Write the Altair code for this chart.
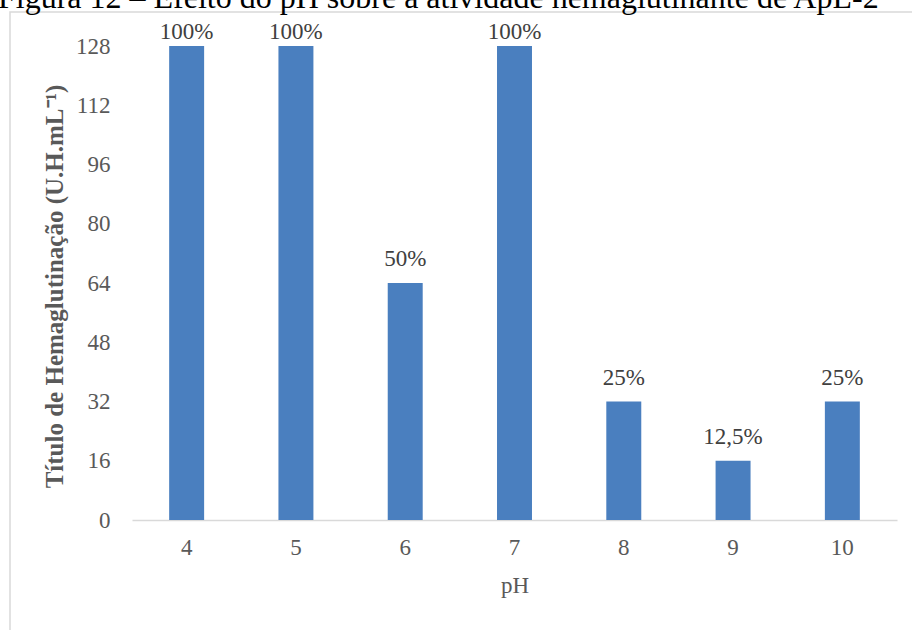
import altair as alt
import pandas as pd

# pH values and hemagglutination titre (U.H.mL^-1) with relative activity labels
ph_values = ["4", "5", "6", "7", "8", "9", "10"]
titre = [128, 128, 64, 128, 32, 16, 32]
activity = ["100%", "100%", "50%", "100%", "25%", "12,5%", "25%"]

heading = "Figura 12 – Efeito do pH sobre a atividade hemaglutinante de ApL-2"
y_ticks = [0, 16, 32, 48, 64, 80, 96, 112, 128]

df = pd.DataFrame({"pH": ph_values, "titulo": titre, "rotulo": activity})

SERIF = "Liberation Serif"
GREY = "#595959"
BLUE = "#4a7fbf"

x_enc = alt.X(
    "pH:N",
    sort=ph_values,
    scale=alt.Scale(paddingInner=0.68, paddingOuter=0.34),
    axis=alt.Axis(
        title="pH",
        labelAngle=0,
        labelFont=SERIF,
        labelFontSize=23,
        labelColor=GREY,
        labelPadding=16,
        ticks=False,
        tickSize=0,
        domainColor="#d9d9d9",
        domainWidth=1.5,
        titleFont=SERIF,
        titleFontSize=23,
        titleFontWeight="normal",
        titleColor=GREY,
        titleY=65,
        titleBaseline="middle",
    ),
)

y_enc = alt.Y(
    "titulo:Q",
    scale=alt.Scale(domain=[0, 128], nice=False),
    axis=alt.Axis(
        title="Título de Hemaglutinação (U.H.mL⁻¹)",
        values=y_ticks,
        grid=False,
        domain=False,
        ticks=False,
        tickSize=0,
        labelFont=SERIF,
        labelFontSize=23,
        labelColor=GREY,
        labelPadding=22,
        titleFont=SERIF,
        titleFontSize=25,
        titleFontWeight="bold",
        titleColor=GREY,
        titleX=-78,
        titleY=240,
        titleAngle=-90,
        titleAlign="center",
        titleBaseline="middle",
    ),
)

base = alt.Chart(df)

bars = base.mark_bar(color=BLUE).encode(x=x_enc, y=y_enc)

label_style = dict(font=SERIF, fontSize=23, color="#404040", baseline="middle")

labels_low = (
    base.transform_filter("datum.titulo < 128")
    .mark_text(dy=-24, **label_style)
    .encode(x=alt.X("pH:N", sort=ph_values), y="titulo:Q", text="rotulo:N")
)
labels_top = (
    base.transform_filter("datum.titulo >= 128")
    .mark_text(dy=-14, **label_style)
    .encode(x=alt.X("pH:N", sort=ph_values), y="titulo:Q", text="rotulo:N")
)

# outer chart frame (light grey border)
frame = (
    alt.Chart(pd.DataFrame({"k": [0]}))
    .mark_rect(fill=None, stroke="#d9d9d9", strokeWidth=1.5)
    .encode(
        x=alt.value(-122),
        x2=alt.value(800),
        y=alt.value(-34),
        y2=alt.value(600),
    )
)

# figure heading, partly above the visible canvas
heading_mark = (
    alt.Chart(pd.DataFrame({"t": [heading]}))
    .mark_text(font=SERIF, fontSize=32, color="#000000", align="left", baseline="alphabetic")
    .encode(text="t:N", x=alt.value(-134), y=alt.value(-38))
)

chart = (
    alt.layer(frame, bars, labels_low, labels_top, heading_mark)
    .properties(
        width=765,
        height=474,
        autosize=alt.AutoSizeParams(type="none"),
        padding={"left": 132, "top": 46, "right": 15, "bottom": 110},
        background="white",
    )
    .configure_view(stroke=None)
)

chart.save("out.html", embed_options={"renderer": "svg", "actions": False})
